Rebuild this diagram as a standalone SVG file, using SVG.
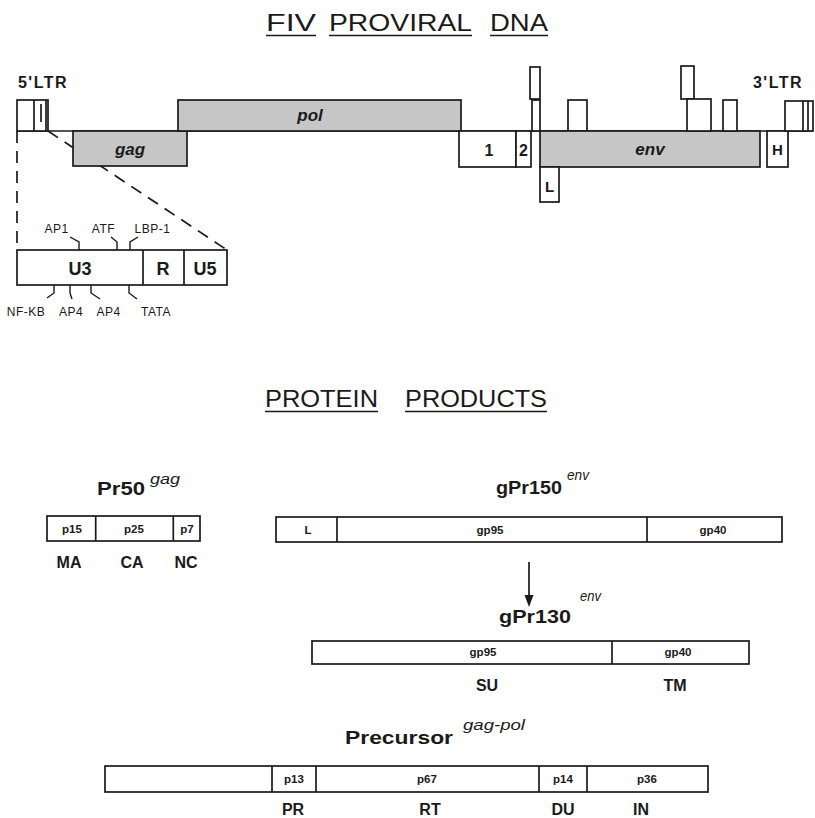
<svg xmlns="http://www.w3.org/2000/svg" width="815" height="818" viewBox="0 0 815 818">
<style>
.bx{fill:#fff;stroke:#1a1a1a;stroke-width:1.7}
.gr{fill:#c6c6c6;stroke:#1a1a1a;stroke-width:1.7}
.ln{fill:none;stroke:#1a1a1a;stroke-width:1.7}
.dash{fill:none;stroke:#1a1a1a;stroke-width:1.7;stroke-dasharray:12 8}
.tk{fill:none;stroke:#1a1a1a;stroke-width:1.4}
.ttl{font-family:"Liberation Sans",Arial,sans-serif;font-size:23px;fill:#1a1a1a}
.lab{font-family:"Liberation Sans",Arial,sans-serif;font-weight:bold;fill:#1a1a1a;text-anchor:middle}
.lbl{font-family:"Liberation Sans",Arial,sans-serif;font-weight:bold;fill:#1a1a1a;font-size:19px}
.it{font-family:"Liberation Sans",Arial,sans-serif;font-weight:bold;font-style:italic;fill:#1a1a1a;text-anchor:middle;font-size:17px}
.sm{font-family:"Liberation Sans",Arial,sans-serif;font-size:12px;fill:#1a1a1a;text-anchor:middle;letter-spacing:0.5px}
.sup{font-family:"Liberation Sans",Arial,sans-serif;font-style:italic;font-size:14px;fill:#1a1a1a}
.pl{font-family:"Liberation Sans",Arial,sans-serif;font-weight:bold;font-size:11.5px;fill:#1a1a1a;text-anchor:middle}
</style>

<g id="title-dna">
<text class="ttl" x="266" y="31" textLength="50" lengthAdjust="spacingAndGlyphs">FIV</text>
<text class="ttl" x="329" y="31" textLength="143" lengthAdjust="spacingAndGlyphs">PROVIRAL</text>
<text class="ttl" x="490" y="31" textLength="58" lengthAdjust="spacingAndGlyphs">DNA</text>
<line class="ln" x1="266" y1="35.5" x2="316" y2="35.5" stroke-width="2.4"/>
<line class="ln" x1="329" y1="35.5" x2="472" y2="35.5" stroke-width="2.4"/>
<line class="ln" x1="490" y1="35.5" x2="548" y2="35.5" stroke-width="2.4"/>
</g>

<g id="connectors">
<line class="ln" x1="17" y1="131" x2="813" y2="131"/>
<line class="dash" x1="17" y1="131" x2="17" y2="250"/>
<line class="dash" x1="48" y1="131" x2="227" y2="250"/>
<line class="ln" x1="529" y1="562" x2="529" y2="597" stroke-width="2"/>
<polygon points="524.5,595 533.5,595 529,607" fill="#1a1a1a"/>
</g>

<g id="ltr5">
<text class="lab" x="43" y="88" font-size="16" letter-spacing="1.5">5'LTR</text>
<rect class="bx" x="17" y="100" width="31" height="31"/>
<line class="ln" x1="34" y1="100" x2="34" y2="131"/>
<line class="ln" x1="46" y1="100" x2="46" y2="131"/>
<line class="ln" x1="41" y1="104" x2="41" y2="122"/>
</g>

<g id="gag"><rect class="gr" x="73" y="131" width="114" height="35"/><text class="it" x="130" y="155">gag</text></g>
<g id="pol"><rect class="gr" x="178" y="100" width="283" height="31"/><text class="it" x="310" y="121">pol</text></g>
<g id="orf1"><rect class="bx" x="459" y="131" width="57" height="36"/><text class="lab" x="489" y="156" font-size="16">1</text></g>
<g id="orf2"><rect class="bx" x="516" y="131" width="15" height="36"/><text class="lab" x="523.5" y="156" font-size="16">2</text></g>
<g id="exon-a"><rect class="bx" x="530" y="67" width="10" height="32"/><rect class="bx" x="532" y="100" width="8" height="31"/></g>
<g id="exon-b"><rect class="bx" x="568" y="100" width="19" height="31"/></g>
<g id="env"><rect class="gr" x="540" y="131" width="220" height="36"/><text class="it" x="650" y="155">env</text></g>
<g id="leader"><rect class="bx" x="540" y="167" width="19" height="35"/><text class="lab" x="549.5" y="192" font-size="15">L</text></g>
<g id="exon-c"><rect class="bx" x="681" y="66" width="13" height="33"/><rect class="bx" x="687" y="99" width="24" height="32"/></g>
<g id="exon-d"><rect class="bx" x="723" y="100" width="14" height="31"/></g>
<g id="orfH"><rect class="bx" x="767" y="131" width="21" height="36"/><text class="lab" x="777.5" y="155" font-size="15">H</text></g>
<g id="ltr3">
<text class="lab" x="778" y="88" font-size="16" letter-spacing="1.5">3'LTR</text>
<rect class="bx" x="785" y="101" width="28" height="30"/>
<line class="ln" x1="803" y1="101" x2="803" y2="131"/>
<line class="ln" x1="808" y1="101" x2="808" y2="131"/>
</g>

<g id="ltr-detail">
<rect class="bx" x="17" y="250" width="210" height="35"/>
<line class="ln" x1="143" y1="250" x2="143" y2="285"/>
<line class="ln" x1="184" y1="250" x2="184" y2="285"/>
<text class="lab" x="80" y="275" font-size="18">U3</text>
<text class="lab" x="163" y="275" font-size="18">R</text>
<text class="lab" x="205" y="275" font-size="18">U5</text>
<polyline class="tk" points="70,237 79,242 79,250"/>
<polyline class="tk" points="111,237 117,242 117,250"/>
<polyline class="tk" points="138,237 130,242 130,250"/>
<polyline class="tk" points="54,285 54,293 47,298"/>
<polyline class="tk" points="70,285 70,293 72,299"/>
<polyline class="tk" points="91,285 91,293 100,299"/>
<polyline class="tk" points="129,285 129,293 137,299"/>
<text class="sm" x="56.5" y="233">AP1</text>
<text class="sm" x="103.5" y="233">ATF</text>
<text class="sm" x="152.5" y="233">LBP-1</text>
<text class="sm" x="26" y="316">NF-KB</text>
<text class="sm" x="71" y="316">AP4</text>
<text class="sm" x="108.5" y="316">AP4</text>
<text class="sm" x="156" y="316">TATA</text>
</g>

<g id="title-protein">
<text class="ttl" x="265" y="407" textLength="113" lengthAdjust="spacingAndGlyphs">PROTEIN</text>
<text class="ttl" x="405" y="407" textLength="142" lengthAdjust="spacingAndGlyphs">PRODUCTS</text>
<line class="ln" x1="265" y1="411.5" x2="378" y2="411.5" stroke-width="2.4"/>
<line class="ln" x1="405" y1="411.5" x2="547" y2="411.5" stroke-width="2.4"/>
</g>

<g id="pr50">
<text class="lbl" x="97" y="495" textLength="48" lengthAdjust="spacingAndGlyphs">Pr50</text>
<text class="sup" x="150" y="484" textLength="30" lengthAdjust="spacingAndGlyphs">gag</text>
<rect class="bx" x="47" y="516" width="153" height="25"/>
<line class="ln" x1="95.7" y1="516" x2="95.7" y2="541"/>
<line class="ln" x1="173.3" y1="516" x2="173.3" y2="541"/>
<text class="pl" x="72" y="533">p15</text>
<text class="pl" x="134" y="533">p25</text>
<text class="pl" x="187" y="533">p7</text>
<text class="lab" x="69" y="568" font-size="16">MA</text>
<text class="lab" x="132" y="568" font-size="16">CA</text>
<text class="lab" x="186" y="568" font-size="16">NC</text>
</g>

<g id="gpr150">
<text class="lbl" x="496" y="494" textLength="66" lengthAdjust="spacingAndGlyphs">gPr150</text>
<text class="sup" x="567" y="480" textLength="22" lengthAdjust="spacingAndGlyphs">env</text>
<rect class="bx" x="276" y="517" width="506" height="25"/>
<line class="ln" x1="337" y1="517" x2="337" y2="542"/>
<line class="ln" x1="647" y1="517" x2="647" y2="542"/>
<text class="pl" x="308" y="534">L</text>
<text class="pl" x="490" y="534">gp95</text>
<text class="pl" x="713" y="534">gp40</text>
</g>

<g id="gpr130">
<text class="lbl" x="499" y="623" textLength="72" lengthAdjust="spacingAndGlyphs">gPr130</text>
<text class="sup" x="580" y="601" textLength="21" lengthAdjust="spacingAndGlyphs">env</text>
<rect class="bx" x="312" y="641" width="437" height="23"/>
<line class="ln" x1="612" y1="641" x2="612" y2="664"/>
<text class="pl" x="483" y="656">gp95</text>
<text class="pl" x="678" y="656">gp40</text>
<text class="lab" x="487" y="691" font-size="16">SU</text>
<text class="lab" x="675" y="691" font-size="16">TM</text>
</g>

<g id="precursor">
<text class="lbl" x="345" y="744" textLength="108" lengthAdjust="spacingAndGlyphs">Precursor</text>
<text class="sup" x="463" y="730" textLength="62" lengthAdjust="spacingAndGlyphs">gag-pol</text>
<rect class="bx" x="105" y="766" width="603" height="26"/>
<line class="ln" x1="272" y1="766" x2="272" y2="792"/>
<line class="ln" x1="316" y1="766" x2="316" y2="792"/>
<line class="ln" x1="539" y1="766" x2="539" y2="792"/>
<line class="ln" x1="587" y1="766" x2="587" y2="792"/>
<text class="pl" x="294" y="783">p13</text>
<text class="pl" x="427" y="783">p67</text>
<text class="pl" x="563" y="783">p14</text>
<text class="pl" x="647" y="783">p36</text>
<text class="lab" x="293" y="815" font-size="16">PR</text>
<text class="lab" x="430" y="815" font-size="16">RT</text>
<text class="lab" x="563" y="815" font-size="16">DU</text>
<text class="lab" x="641" y="815" font-size="16">IN</text>
</g>
</svg>
